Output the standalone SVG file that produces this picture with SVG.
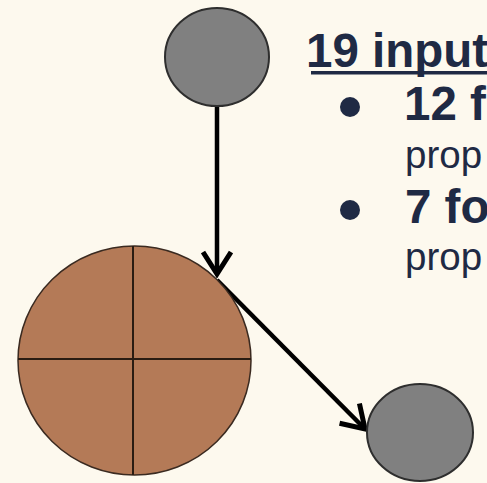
<svg xmlns="http://www.w3.org/2000/svg" width="487" height="483" viewBox="0 0 487 483">
  <defs>
    <style>
      .gray { fill: #808080; stroke: #2e2e2e; stroke-width: 2; }
      .brown { fill: #b47a57; stroke: #3a2a20; stroke-width: 1.5; }
      .cross { stroke: #2a1c12; stroke-width: 2; fill: none; }
      .conn { stroke: #000; stroke-width: 4.5; fill: none; }
      .bold { font-family: "Liberation Sans", Arial, sans-serif; font-weight: bold; font-size: 47.5px; fill: #1f2a44; }
      .reg { font-family: "Liberation Sans", Arial, sans-serif; font-size: 38.5px; fill: #1f2a44; }
    </style>
    <marker id="arrow" markerUnits="userSpaceOnUse" viewBox="-26 -16 30 32" markerWidth="30" markerHeight="32" refX="0" refY="0" orient="auto">
      <polyline points="-22,-14 0,0 -22,14" fill="none" stroke="#000" stroke-width="5" stroke-linejoin="miter"/>
    </marker>
  </defs>
  <rect width="487" height="483" fill="#fdf9ee"/>

  <g id="connectors">
    <line class="conn" x1="217" y1="106" x2="217" y2="274" marker-end="url(#arrow)"/>
    <line class="conn" x1="217" y1="280" x2="365" y2="429" marker-end="url(#arrow)"/>
  </g>

  <g id="node-top">
    <ellipse class="gray" cx="217" cy="57" rx="52" ry="49"/>
  </g>

  <g id="node-big">
    <ellipse class="brown" cx="134.5" cy="360.5" rx="116.5" ry="114.5"/>
    <line class="cross" x1="133" y1="246" x2="133" y2="475"/>
    <line class="cross" x1="18" y1="359" x2="251" y2="359"/>
  </g>

  <g id="node-bottom">
    <ellipse class="gray" cx="420" cy="432.5" rx="53" ry="48.5"/>
  </g>

  <g id="text">
    <text class="bold" x="306" y="66.5">19 inputs</text>
    <rect x="311" y="71" width="176" height="3.5" fill="#1f2a44"/>
    <circle cx="350" cy="107" r="10" fill="#1f2a44"/>
    <text class="bold" x="404" y="120">12 fo</text>
    <text class="reg" x="405" y="168">prop</text>
    <circle cx="350" cy="210" r="10" fill="#1f2a44"/>
    <text class="bold" x="405" y="222.5">7 fo</text>
    <text class="reg" x="405" y="270">prop</text>
  </g>
</svg>
